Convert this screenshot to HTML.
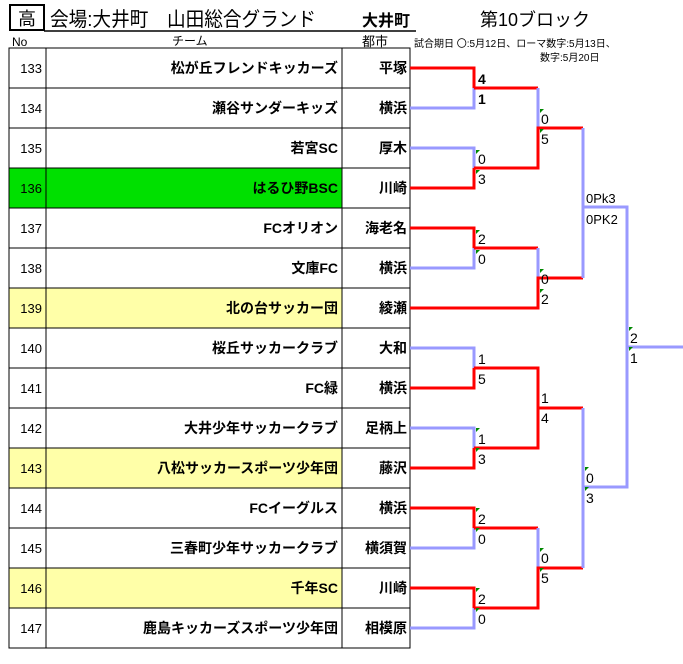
<!DOCTYPE html>
<html><head><meta charset="utf-8"><style>
html,body{margin:0;padding:0;background:#fff;width:683px;height:664px;overflow:hidden}
svg{display:block}
text{font-family:"Liberation Sans","Noto Sans CJK JP",sans-serif}
</style></head><body>
<svg width="683" height="664" xmlns="http://www.w3.org/2000/svg">
<rect x="10" y="5" width="34" height="25" fill="none" stroke="#000" stroke-width="2"/>
<text x="18" y="25" font-size="18">高</text>
<text x="50" y="26" font-size="20" textLength="266" lengthAdjust="spacingAndGlyphs">会場:大井町　山田総合グランド</text>
<text x="362" y="26" font-size="16" font-weight="bold">大井町</text>
<text x="480" y="26" font-size="18">第10ブロック</text>
<line x1="44" y1="31" x2="416" y2="31" stroke="#000" stroke-width="1.5"/>
<text x="12" y="46" font-size="12">No</text>
<text x="172" y="45" font-size="12">チーム</text>
<text x="362" y="46" font-size="13">都市</text>
<text x="414" y="47" font-size="10">試合期日  〇:5月12日、ローマ数字:5月13日、</text>
<text x="540" y="61" font-size="10">数字:5月20日</text>
<g id="rows"></g>
<g fill="none" stroke-width="3">
<path d="M410 68H474V88" stroke="#f00"/><path d="M474 88V108H410" stroke="#99f"/>
<path d="M410 148H474V168" stroke="#99f"/><path d="M474 168V188H410" stroke="#f00"/>
<path d="M410 228H474V248" stroke="#f00"/><path d="M474 248V268H410" stroke="#99f"/>
<path d="M410 348H474V368" stroke="#99f"/><path d="M474 368V388H410" stroke="#f00"/>
<path d="M410 428H474V448" stroke="#99f"/><path d="M474 448V468H410" stroke="#f00"/>
<path d="M410 508H474V528" stroke="#f00"/><path d="M474 528V548H410" stroke="#99f"/>
<path d="M410 588H474V608" stroke="#f00"/><path d="M474 608V628H410" stroke="#99f"/>
<path d="M474 88H538" stroke="#f00"/><path d="M538 88V128" stroke="#99f"/><path d="M474 168H538V128H583" stroke="#f00"/>
<path d="M474 248H538" stroke="#f00"/><path d="M538 248V278" stroke="#99f"/><path d="M410 308H538V278H583" stroke="#f00"/>
<path d="M474 368H538V408H583" stroke="#f00"/><path d="M474 448H538V408" stroke="#f00"/>
<path d="M474 528H538" stroke="#f00"/><path d="M538 528V568" stroke="#99f"/><path d="M474 608H538V568H583" stroke="#f00"/>
<path d="M583 128V278M583 207H627V347M583 408V568M583 487H627V347H683" stroke="#99f"/>
</g>
<g font-size="14" fill="#000">
<text x="478" y="84" font-family="Liberation Serif,serif" font-weight="bold">4</text><text x="478" y="104" font-family="Liberation Serif,serif" font-weight="bold">1</text>
<text x="478" y="164">0</text><text x="478" y="184">3</text>
<text x="478" y="244">2</text><text x="478" y="264">0</text>
<text x="478" y="364">1</text><text x="478" y="384">5</text>
<text x="478" y="444">1</text><text x="478" y="464">3</text>
<text x="478" y="524">2</text><text x="478" y="544">0</text>
<text x="478" y="604">2</text><text x="478" y="624">0</text>
<text x="541" y="124">0</text><text x="541" y="144">5</text>
<text x="541" y="284">0</text><text x="541" y="304">2</text>
<text x="541" y="403">1</text><text x="541" y="423">4</text>
<text x="541" y="563">0</text><text x="541" y="583">5</text>
<text x="586" y="203" font-size="13">0Pk3</text><text x="586" y="224" font-size="13">0PK2</text>
<text x="586" y="483">0</text><text x="586" y="503">3</text>
<text x="630" y="343">2</text><text x="630" y="363">1</text>
</g>
<g fill="#080">
<path d="M476 150h4l-4 4z"/><path d="M476 170h4l-4 4z"/><path d="M476 230h4l-4 4z"/><path d="M476 250h4l-4 4z"/>
<path d="M476 428h4l-4 4z"/><path d="M476 448h4l-4 4z"/><path d="M476 508h4l-4 4z"/><path d="M476 528h4l-4 4z"/>
<path d="M476 588h4l-4 4z"/><path d="M476 608h4l-4 4z"/>
<path d="M540 109h4l-4 4z"/><path d="M540 129h4l-4 4z"/><path d="M540 269h4l-4 4z"/><path d="M540 289h4l-4 4z"/>
<path d="M540 548h4l-4 4z"/><path d="M540 568h4l-4 4z"/>
<path d="M585 467h4l-4 4z"/><path d="M585 487h4l-4 4z"/>
<path d="M629 327h4l-4 4z"/><path d="M629 347h4l-4 4z"/>
</g>
</svg>
<script>
var d=[["133","松が丘フレンドキッカーズ","平塚",""],["134","瀬谷サンダーキッズ","横浜",""],["135","若宮SC","厚木",""],["136","はるひ野BSC","川崎","#00e000"],["137","FCオリオン","海老名",""],["138","文庫FC","横浜",""],["139","北の台サッカー団","綾瀬","#ffffa8"],["140","桜丘サッカークラブ","大和",""],["141","FC緑","横浜",""],["142","大井少年サッカークラブ","足柄上",""],["143","八松サッカースポーツ少年団","藤沢","#ffffa8"],["144","FCイーグルス","横浜",""],["145","三春町少年サッカークラブ","横須賀",""],["146","千年SC","川崎","#ffffa8"],["147","鹿島キッカーズスポーツ少年団","相模原",""]];
var s="";
d.forEach(function(r,i){var y=48+40*i;
if(r[3])s+='<rect x="9" y="'+y+'" width="333" height="40" fill="'+r[3]+'"/>';
s+='<rect x="9" y="'+y+'" width="401" height="40" fill="none" stroke="#000" stroke-width="1"/>';
s+='<line x1="46" y1="'+y+'" x2="46" y2="'+(y+40)+'" stroke="#000"/><line x1="342" y1="'+y+'" x2="342" y2="'+(y+40)+'" stroke="#000"/>';
s+='<text x="42" y="'+(y+25)+'" font-size="13" text-anchor="end">'+r[0]+'</text>';
s+='<text x="338" y="'+(y+25)+'" font-size="14" font-weight="bold" text-anchor="end">'+r[1]+'</text>';
s+='<text x="407" y="'+(y+25)+'" font-size="14" font-weight="bold" text-anchor="end">'+r[2]+'</text>';});
document.getElementById("rows").innerHTML=s;
</script>
</body></html>
